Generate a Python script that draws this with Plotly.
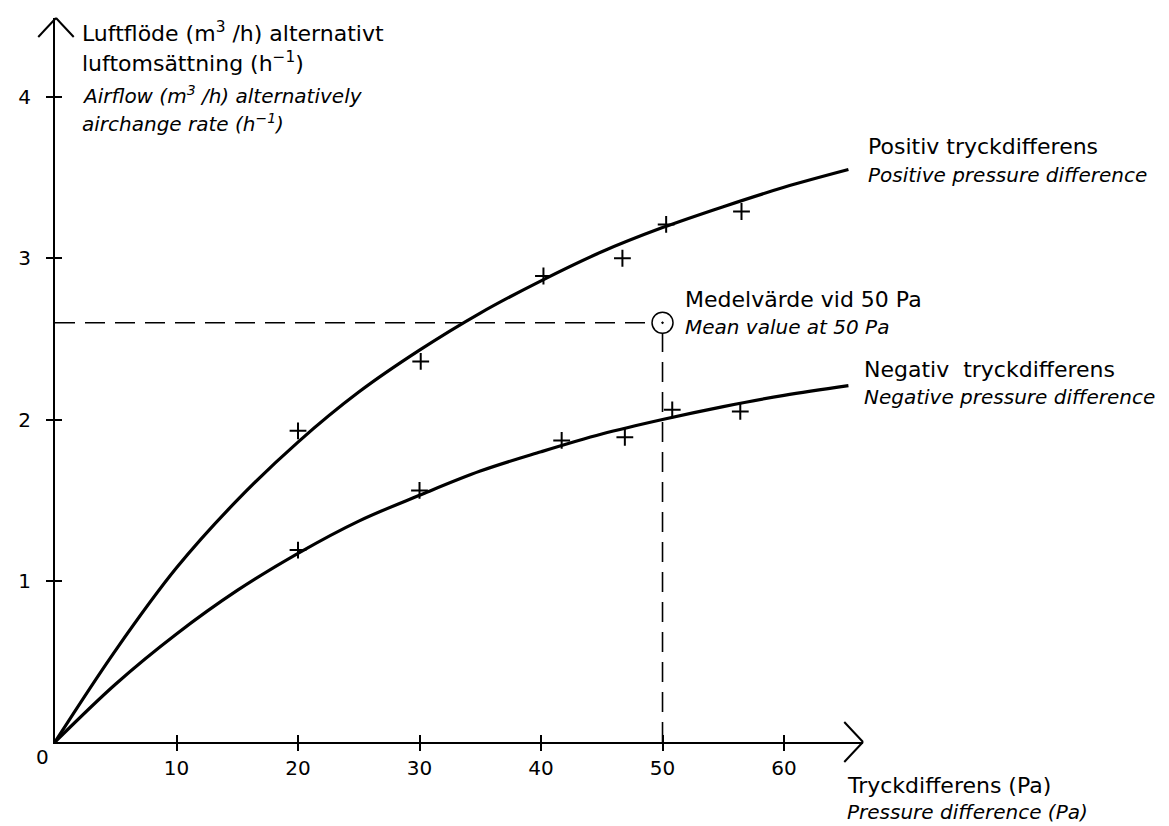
import plotly.graph_objects as go

# ---------------- data ----------------
curve_x = [0, 5, 10, 15, 20, 25, 30, 35, 40, 45, 50, 55, 60, 65.3]
pos_curve_y = [0, 0.57, 1.08, 1.50, 1.86, 2.17, 2.43, 2.66, 2.86, 3.04, 3.19, 3.32, 3.44, 3.55]
neg_curve_y = [0, 0.36, 0.67, 0.94, 1.17, 1.37, 1.53, 1.68, 1.80, 1.91, 2.00, 2.08, 2.15, 2.21]

pos_pts_x = [20, 30.1, 40.2, 46.7, 50.3, 56.5]
pos_pts_y = [1.93, 2.36, 2.89, 3.00, 3.21, 3.29]
neg_pts_x = [20, 30, 41.7, 46.9, 50.8, 56.4]
neg_pts_y = [1.19, 1.56, 1.87, 1.89, 2.06, 2.05]

mean_x = 50
mean_y = 2.6

x_ticks = [10, 20, 30, 40, 50, 60]
y_ticks = [1, 2, 3, 4]

# ---------------- layout geometry ----------------
# The page body has an 8 px margin, so the figure is 8 px smaller and
# reference pixel positions are converted accordingly.
OFF = 8
W, H = 1169 - OFF, 826 - OFF
X0, Y0 = 43, 742          # origin in reference pixels
PW, PH = 820, 724         # plot area size in pixels
L, T = X0 - OFF, Y0 - PH - OFF
R = W - L - PW
B = H - T - PH
XMAX = 66.5
YMAX = 4.49
FONT = "DejaVu Sans"
FS = 22
FSI = 20
FST = 20


def paper(xp, yp):
    return (xp - X0) / PW, (Y0 - yp) / PH


fig = go.Figure()

line_style = dict(color="black", width=3.2, shape="spline", smoothing=1.0)
fig.add_trace(go.Scatter(x=curve_x, y=pos_curve_y, mode="lines", line=line_style,
                         hoverinfo="skip", showlegend=False))
fig.add_trace(go.Scatter(x=curve_x, y=neg_curve_y, mode="lines", line=line_style,
                         hoverinfo="skip", showlegend=False))

plus = dict(symbol="cross-thin", size=12, line=dict(color="black", width=2), color="black")
fig.add_trace(go.Scatter(x=pos_pts_x, y=pos_pts_y, mode="markers", marker=plus,
                         showlegend=False))
fig.add_trace(go.Scatter(x=neg_pts_x, y=neg_pts_y, mode="markers", marker=plus,
                         showlegend=False))

dash_line = dict(color="black", width=1.6, dash="20px,10px")
fig.add_trace(go.Scatter(x=[0, mean_x], y=[mean_y, mean_y], mode="lines",
                         line=dash_line, showlegend=False, hoverinfo="skip"))
fig.add_trace(go.Scatter(x=[mean_x, mean_x], y=[0, mean_y], mode="lines",
                         line=dash_line, showlegend=False, hoverinfo="skip"))
fig.add_trace(go.Scatter(x=[mean_x], y=[mean_y], mode="markers",
                         marker=dict(symbol="circle-dot", size=21, color="white",
                                     line=dict(color="black", width=1.5)),
                         showlegend=False, cliponaxis=False))

# invisible trace for the overlay axes (inside half of crossing ticks)
fig.add_trace(go.Scatter(x=[None], y=[None], xaxis="x2", yaxis="y2",
                         showlegend=False, hoverinfo="skip"))

axis_common = dict(showgrid=False, zeroline=False, ticks="outside", ticklen=7,
                   tickwidth=1.5, tickcolor="black", showline=True, linecolor="black",
                   linewidth=2.2, tickfont=dict(family=FONT, size=FST, color="black"))

fig.update_layout(
    width=W, height=H,
    margin=dict(l=L, r=R, t=T, b=B, pad=0),
    paper_bgcolor="white", plot_bgcolor="white",
    xaxis=dict(range=[0, XMAX], tickmode="array", tickvals=x_ticks,
               ticktext=[str(v) for v in x_ticks], ticklabelstandoff=0, **axis_common),
    yaxis=dict(range=[0, YMAX], tickmode="array", tickvals=y_ticks,
               ticktext=[str(v) for v in y_ticks], ticklabelstandoff=11, **axis_common),
    xaxis2=dict(range=[0, XMAX], overlaying="x", tickmode="array", tickvals=x_ticks,
                ticks="inside", ticklen=7, tickwidth=1.5, tickcolor="black",
                showticklabels=False, showgrid=False, zeroline=False, showline=False),
    yaxis2=dict(range=[0, YMAX], overlaying="y", tickmode="array", tickvals=y_ticks,
                ticks="inside", ticklen=7, tickwidth=1.5, tickcolor="black",
                showticklabels=False, showgrid=False, zeroline=False, showline=False),
    font=dict(family=FONT, size=FS, color="black"),
)

# ---------------- axis arrowheads (open chevrons) ----------------
arrow = dict(color="black", width=2)
ax, ay = paper(44, 18)
lx, ly = paper(26, 37)
rx, ry = paper(62, 37)
fig.add_shape(type="line", xref="paper", yref="paper", x0=lx, y0=ly, x1=ax, y1=ay, line=arrow)
fig.add_shape(type="line", xref="paper", yref="paper", x0=rx, y0=ry, x1=ax, y1=ay, line=arrow)
bx, by = paper(863, 742)
ux, uy = paper(844, 722)
dx, dy = paper(844, 762)
fig.add_shape(type="line", xref="paper", yref="paper", x0=ux, y0=uy, x1=bx, y1=by, line=arrow)
fig.add_shape(type="line", xref="paper", yref="paper", x0=dx, y0=dy, x1=bx, y1=by, line=arrow)


def label(text, xp, yp, italic=False, xanchor="left", size=None):
    x, y = paper(xp, yp)
    if italic:
        text = "<i>" + text + "</i>"
    if size is None:
        size = FSI if italic else FS
    fig.add_annotation(x=x, y=y, xref="paper", yref="paper", text=text,
                       showarrow=False, xanchor=xanchor, yanchor="middle",
                       font=dict(family=FONT, size=size, color="black"))


label("0", 30, 757, xanchor="center", size=FST)
label("Luftflöde (m<sup>3</sup> /h) alternativt", 68, 32)
label("luftomsättning (h<sup>−1</sup>)", 68, 62)
label("Airflow (m<sup>3</sup> /h) alternatively", 68, 95, italic=True)
label("airchange rate (h<sup>−1</sup>)", 68, 123, italic=True)

label("Positiv tryckdifferens", 866, 147)
label("Positive pressure difference", 866, 175, italic=True)
label("Medelvärde vid 50 Pa", 680, 299)
label("Mean value at 50 Pa", 680, 327, italic=True)
label("Negativ  tryckdifferens", 862, 369)
label("Negative pressure difference", 862, 397, italic=True)
label("Tryckdifferens (Pa)", 845, 785)
label("Pressure difference (Pa)", 845, 812, italic=True)

fig.write_html("out.html")
